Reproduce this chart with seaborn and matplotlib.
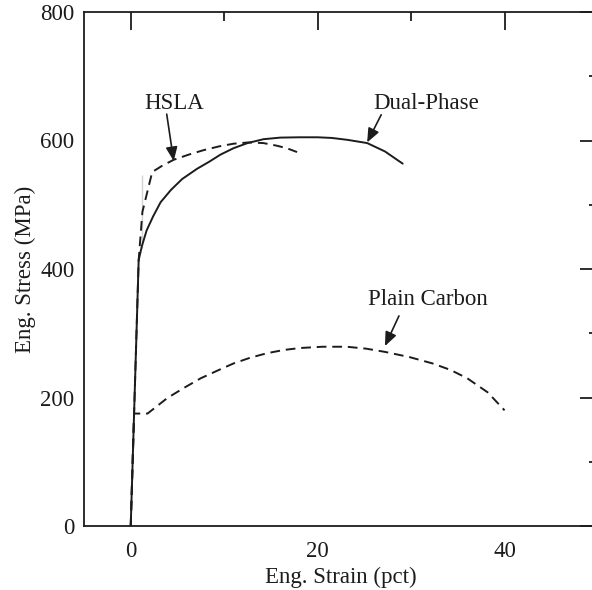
import matplotlib
matplotlib.use("Agg")
import matplotlib.pyplot as plt
import seaborn as sns
from matplotlib.ticker import MultipleLocator

sns.set_theme(style="white")
plt.rcParams["font.family"] = ["Liberation Serif", "DejaVu Serif"]

# ---- data ----
dp_strain = [0, 0.85, 1.2, 1.7, 2.4, 3.2, 4.3, 5.5, 7.1, 8.4, 9.6, 11.0, 12.5, 14.2, 16.0, 18.0, 20.0, 21.5, 23.2, 25.3, 27.2, 29.1]
dp_stress = [0, 414, 436, 460, 482, 504, 523, 540, 556, 567, 578, 588, 596, 602, 604.5, 605, 605, 604, 601, 596, 583, 564]

hsla_strain = [0, 0.85, 1.25, 1.25, 2.3, 3.4, 4.6, 6.2, 7.8, 9.5, 11.0, 12.6, 14.2, 15.6, 16.7, 17.8]
hsla_stress = [0, 414, 432, 546, 551, 561, 570, 578, 585, 591, 595, 597, 596, 592, 588, 582]

pc_strain = [0, 0.36, 1.0, 1.8, 3.9, 5.7, 7.5, 9.3, 11.0, 12.8, 14.6, 16.4, 18.1, 20.5, 23.1, 25.2, 27.2, 29.8, 32.3, 34.2, 36.0, 38.2, 40.0]
pc_stress = [0, 175, 175, 175, 199, 215, 230, 242, 253, 262, 269, 274, 277, 279, 279, 276, 271, 263, 253, 243, 230, 208, 180]

x_ticks = [0, 20, 40]
y_ticks = [0, 200, 400, 600, 800]

x_label = "Eng. Strain (pct)"
y_label = "Eng. Stress (MPa)"

labels = ["HSLA", "Dual-Phase", "Plain Carbon"]
label_pos = [(4.6, 658), (31.6, 658), (31.8, 352)]
arrow_from = [(3.85, 641), (26.8, 640), (28.7, 327)]
arrow_to = [(4.6, 568), (25.3, 597), (27.2, 280)]

# ---- figure ----
ink = "#1c1c1c"
fs = 16.5
fig = plt.figure(figsize=(5.92, 5.90), dpi=100)
fig.patch.set_facecolor("white")
ax = fig.add_axes([84 / 592, 64 / 590, 514 / 592, 514 / 590])

sns.lineplot(x=dp_strain, y=dp_stress, sort=False, ax=ax, color=ink, lw=1.4)
sns.lineplot(x=hsla_strain, y=hsla_stress, sort=False, ax=ax, color=ink, lw=1.4,
             linestyle=(0, (5, 3)))
sns.lineplot(x=pc_strain, y=pc_stress, sort=False, ax=ax, color=ink, lw=1.4,
             linestyle=(0, (5, 3)))

ax.set_xlim(-5, 50)
ax.set_ylim(0, 800)
ax.set_xticks(x_ticks)
ax.set_yticks(y_ticks)
ax.xaxis.set_minor_locator(MultipleLocator(10))
ax.yaxis.set_minor_locator(MultipleLocator(100))
ax.tick_params(which="both", direction="in", top=True, right=True,
               color=ink, width=1.3, labelsize=fs, labelcolor=ink)
ax.tick_params(which="major", length=13)
ax.tick_params(axis="y", which="major", pad=7)
ax.tick_params(axis="x", which="major", pad=11)
ax.tick_params(which="minor", length=6.5)
for s in ax.spines.values():
    s.set_linewidth(1.3)
    s.set_color(ink)

ax.set_xlabel(x_label, fontsize=fs, color=ink, labelpad=3)
ax.set_ylabel(y_label, fontsize=fs, color=ink, labelpad=3)

for lab, pos, a0, a1 in zip(labels, label_pos, arrow_from, arrow_to):
    ax.text(pos[0], pos[1], lab, ha="center", va="center", fontsize=fs, color=ink)
    ax.annotate("", xy=a1, xytext=a0,
                arrowprops=dict(arrowstyle="-|>,head_length=0.6,head_width=0.25",
                                color=ink, lw=1.2, mutation_scale=14,
                                shrinkA=0, shrinkB=0))

fig.savefig("out.png", dpi=100, facecolor="white")
